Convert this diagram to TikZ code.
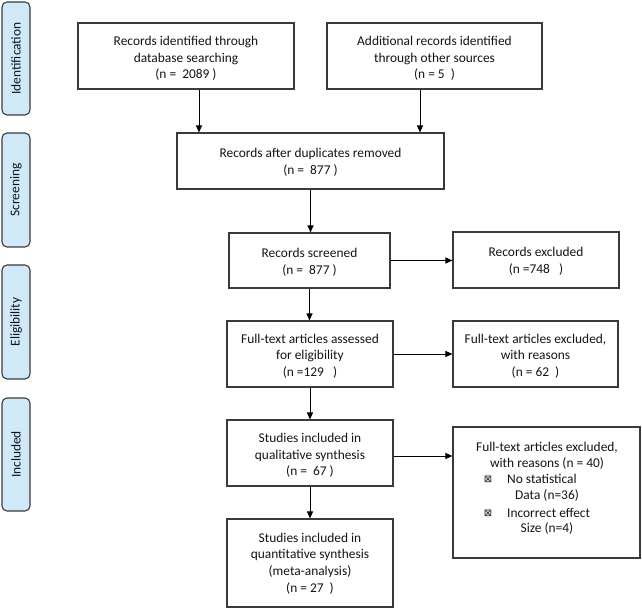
\documentclass[tikz,border=0pt]{standalone}
\usepackage{fontspec}
\setmainfont{Carlito}
\newfontfamily\symfont{DejaVu Sans}
\usetikzlibrary{arrows.meta}
\definecolor{sidefill}{HTML}{CFE9F9}
\definecolor{edge}{HTML}{3A3A3A}
\definecolor{txt}{HTML}{141414}
\begin{document}
\begin{tikzpicture}[x=1pt,y=1pt,
  every node/.style={font=\fontsize{13.4}{16.7}\selectfont, text=txt},
  box/.style={draw=edge, line width=1.1pt, inner sep=0pt, fill=white},
  boxtext/.style={inner sep=0pt, align=center},
  side/.style={draw=edge, line width=1.1pt, fill=sidefill, rounded corners=5pt, rotate=90, inner sep=0pt, minimum height=28pt},
  arr/.style={-{Triangle[length=7pt,width=6pt]}, line width=1pt, draw=black},
  bul/.style={inner sep=0pt, font=\symfont\fontsize{10}{12}\selectfont}
]
\useasboundingbox (0,0) rectangle (642,-609);
% side labels
\node[side, minimum width=113pt] (sid) at (16,-58.5) {Identification};
\node[side, minimum width=114pt] (sscr) at (16,-190) {Screening};
\node[side, minimum width=114pt] (selg) at (16,-322) {Eligibility};
\node[side, minimum width=113pt] (sinc) at (16,-454.5) {Included};
% boxes
\node[box, minimum width=216pt, minimum height=66pt] (db) at (186,-56) {};
\node[box, minimum width=215pt, minimum height=66pt] (oth) at (434.5,-56) {};
\node[box, minimum width=267pt, minimum height=56pt] (dup) at (310.5,-161) {};
\node[box, minimum width=161pt, minimum height=55pt] (scr) at (309.5,-260.5) {};
\node[box, minimum width=166pt, minimum height=56pt] (ex1) at (536,-260) {};
\node[box, minimum width=166pt, minimum height=66pt] (full) at (310,-354) {};
\node[box, minimum width=165pt, minimum height=66pt] (ex2) at (535.5,-354) {};
\node[box, minimum width=166pt, minimum height=66pt] (qual) at (310,-453) {};
\node[box, minimum width=187pt, minimum height=131pt] (ex3) at (546.5,-492.5) {};
\node[box, minimum width=166pt, minimum height=88pt] (quant) at (310,-563) {};
% box texts
\node[boxtext] (dbT) at ([yshift=-2.5pt]db.center) {Records identified through\\database searching\\(n =\ \ 2089 )};
\node[boxtext] (othT) at ([yshift=-2.5pt]oth.center) {Additional records identified\\through other sources\\(n = 5\ \ )};
\node[boxtext] (dupT) at ([yshift=-1.5pt]dup.center) {Records after duplicates removed\\(n =\ \ 877 )};
\node[boxtext] (scrT) at ([yshift=-1.5pt]scr.center) {Records screened\\(n =\ \ 877 )};
\node[boxtext] (ex1T) at ([yshift=-1.5pt]ex1.center) {Records excluded\\(n =748\ \ \ )};
\node[boxtext] (fullT) at ([yshift=-2pt]full.center) {Full-text articles assessed\\for eligibility\\(n =129\ \ \ )};
\node[boxtext] (ex2T) at ([yshift=-2pt]ex2.center) {Full-text articles excluded,\\with reasons\\(n = 62\ \ )};
\node[boxtext] (qualT) at ([yshift=-2.5pt]qual.center) {Studies included in\\qualitative synthesis\\(n =\ \ 67 )};
\node[boxtext] (quantT) at ([yshift=-0.5pt]quant.center) {Studies included in\\quantitative synthesis\\(meta-analysis)\\(n = 27\ \ )};
% text of ex3
\node[inner sep=0pt] (t1) at (547,-448) {Full-text articles excluded,};
\node[inner sep=0pt] (t2) at (547,-464) {with reasons (n = 40)};
\node[bul] (b1) at (488,-479) {⊠};
\node[inner sep=0pt, anchor=west] (t3) at (507,-479) {No statistical};
\node[inner sep=0pt] (t4) at (547,-496) {Data (n=36)};
\node[bul] (b2) at (488,-513) {⊠};
\node[inner sep=0pt, anchor=west] (t5) at (507,-513) {Incorrect effect};
\node[inner sep=0pt] (t6) at (547,-529) {Size (n=4)};
% arrows
\draw[arr] ([xshift=13pt]db.south) -- ([xshift=13pt]db.south |- dup.north);
\draw[arr] ([xshift=-14.5pt]oth.south) -- ([xshift=-14.5pt]oth.south |- dup.north);
\draw[arr] (dup.south) -- (dup.south |- scr.north);
\draw[arr] (scr.east) -- (scr.east -| ex1.west);
\draw[arr] (scr.south) -- (scr.south |- full.north);
\draw[arr] (full.east) -- (full.east -| ex2.west);
\draw[arr] (full.south) -- (full.south |- qual.north);
\draw[arr] ([yshift=-3pt]qual.east) -- ([yshift=-3pt]qual.east -| ex3.west);
\draw[arr] (qual.south) -- (qual.south |- quant.north);
\end{tikzpicture}
\end{document}
